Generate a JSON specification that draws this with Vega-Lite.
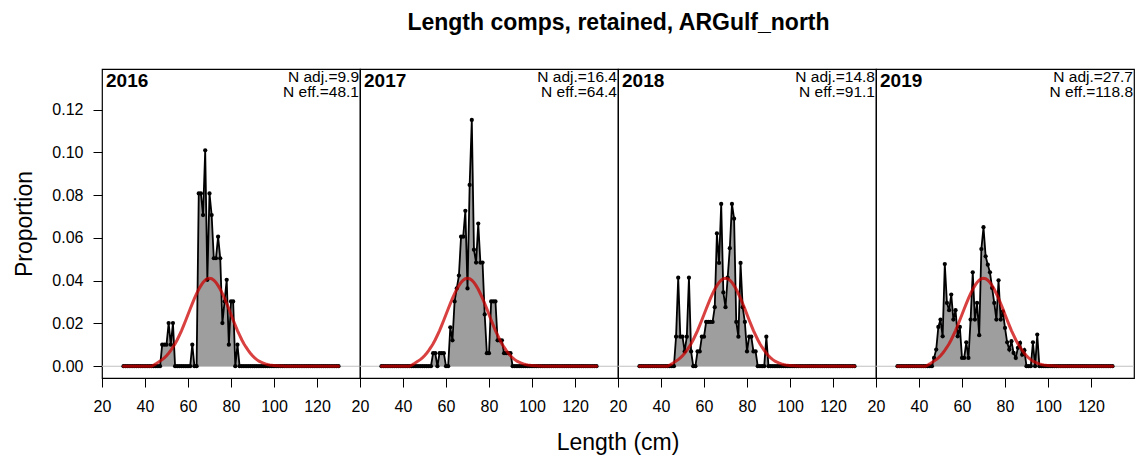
{
"$schema": "https://vega.github.io/schema/vega-lite/v6.json",
"background": "white",
"padding": {"left": 13, "top": 12, "right": 5, "bottom": 5},
"bounds": "flush",
"title": {"text": "Length comps, retained, ARGulf_north", "fontSize": 23, "fontWeight": "bold", "font": "Liberation Sans", "anchor": "middle", "dx": 44, "offset": 33, "color": "black"},
"data": {"values": [
{"year":2016,"len":30,"obs":0,"exp":0},{"year":2016,"len":31,"obs":0,"exp":0},{"year":2016,"len":32,"obs":0,"exp":0},{"year":2016,"len":33,"obs":0,"exp":0},{"year":2016,"len":34,"obs":0,"exp":0},{"year":2016,"len":35,"obs":0,"exp":0},{"year":2016,"len":36,"obs":0,"exp":0},{"year":2016,"len":37,"obs":0,"exp":0},{"year":2016,"len":38,"obs":0,"exp":0},{"year":2016,"len":39,"obs":0,"exp":0},
{"year":2016,"len":40,"obs":0,"exp":0},{"year":2016,"len":41,"obs":0,"exp":0},{"year":2016,"len":42,"obs":0,"exp":0},{"year":2016,"len":43,"obs":0,"exp":0},{"year":2016,"len":44,"obs":0,"exp":0.0005},{"year":2016,"len":45,"obs":0,"exp":0.0011},{"year":2016,"len":46,"obs":0,"exp":0.0018},{"year":2016,"len":47,"obs":0,"exp":0.0024},{"year":2016,"len":48,"obs":0.0101,"exp":0.0031},{"year":2016,"len":49,"obs":0.0101,"exp":0.0039},
{"year":2016,"len":50,"obs":0.0101,"exp":0.0049},{"year":2016,"len":51,"obs":0.0202,"exp":0.0061},{"year":2016,"len":52,"obs":0.0101,"exp":0.0074},{"year":2016,"len":53,"obs":0.0202,"exp":0.0089},{"year":2016,"len":54,"obs":0,"exp":0.0105},{"year":2016,"len":55,"obs":0,"exp":0.0124},{"year":2016,"len":56,"obs":0,"exp":0.0145},{"year":2016,"len":57,"obs":0,"exp":0.0167},{"year":2016,"len":58,"obs":0,"exp":0.0191},{"year":2016,"len":59,"obs":0,"exp":0.0216},
{"year":2016,"len":60,"obs":0,"exp":0.0242},{"year":2016,"len":61,"obs":0,"exp":0.0268},{"year":2016,"len":62,"obs":0.0101,"exp":0.0293},{"year":2016,"len":63,"obs":0,"exp":0.0317},{"year":2016,"len":64,"obs":0,"exp":0.0339},{"year":2016,"len":65,"obs":0.0808,"exp":0.036},{"year":2016,"len":66,"obs":0.0808,"exp":0.0377},{"year":2016,"len":67,"obs":0.0707,"exp":0.0392},{"year":2016,"len":68,"obs":0.101,"exp":0.0402},{"year":2016,"len":69,"obs":0.0404,"exp":0.0409},
{"year":2016,"len":70,"obs":0.0808,"exp":0.0411},{"year":2016,"len":71,"obs":0.0707,"exp":0.0409},{"year":2016,"len":72,"obs":0.0505,"exp":0.0402},{"year":2016,"len":73,"obs":0.0505,"exp":0.0392},{"year":2016,"len":74,"obs":0.0606,"exp":0.0377},{"year":2016,"len":75,"obs":0.0505,"exp":0.036},{"year":2016,"len":76,"obs":0.0202,"exp":0.0339},{"year":2016,"len":77,"obs":0.0303,"exp":0.0317},{"year":2016,"len":78,"obs":0.0404,"exp":0.0293},{"year":2016,"len":79,"obs":0.0101,"exp":0.0268},
{"year":2016,"len":80,"obs":0.0303,"exp":0.0242},{"year":2016,"len":81,"obs":0.0303,"exp":0.0216},{"year":2016,"len":82,"obs":0,"exp":0.0191},{"year":2016,"len":83,"obs":0.0101,"exp":0.0167},{"year":2016,"len":84,"obs":0,"exp":0.0145},{"year":2016,"len":85,"obs":0,"exp":0.0124},{"year":2016,"len":86,"obs":0,"exp":0.0105},{"year":2016,"len":87,"obs":0,"exp":0.0089},{"year":2016,"len":88,"obs":0,"exp":0.0074},{"year":2016,"len":89,"obs":0,"exp":0.0061},
{"year":2016,"len":90,"obs":0,"exp":0.0049},{"year":2016,"len":91,"obs":0,"exp":0.0039},{"year":2016,"len":92,"obs":0,"exp":0.0031},{"year":2016,"len":93,"obs":0,"exp":0.0024},{"year":2016,"len":94,"obs":0,"exp":0.0019},{"year":2016,"len":95,"obs":0,"exp":0.0015},{"year":2016,"len":96,"obs":0,"exp":0.0011},{"year":2016,"len":97,"obs":0,"exp":0.0008},{"year":2016,"len":98,"obs":0,"exp":0.0006},{"year":2016,"len":99,"obs":0,"exp":0.0005},
{"year":2016,"len":100,"obs":0,"exp":0.0003},{"year":2016,"len":101,"obs":0,"exp":0.0002},{"year":2016,"len":102,"obs":0,"exp":0.0002},{"year":2016,"len":103,"obs":0,"exp":0.0001},{"year":2016,"len":104,"obs":0,"exp":0.0001},{"year":2016,"len":105,"obs":0,"exp":0},{"year":2016,"len":106,"obs":0,"exp":0},{"year":2016,"len":107,"obs":0,"exp":0},{"year":2016,"len":108,"obs":0,"exp":0},{"year":2016,"len":109,"obs":0,"exp":0},
{"year":2016,"len":110,"obs":0,"exp":0},{"year":2016,"len":111,"obs":0,"exp":0},{"year":2016,"len":112,"obs":0,"exp":0},{"year":2016,"len":113,"obs":0,"exp":0},{"year":2016,"len":114,"obs":0,"exp":0},{"year":2016,"len":115,"obs":0,"exp":0},{"year":2016,"len":116,"obs":0,"exp":0},{"year":2016,"len":117,"obs":0,"exp":0},{"year":2016,"len":118,"obs":0,"exp":0},{"year":2016,"len":119,"obs":0,"exp":0},
{"year":2016,"len":120,"obs":0,"exp":0},{"year":2016,"len":121,"obs":0,"exp":0},{"year":2016,"len":122,"obs":0,"exp":0},{"year":2016,"len":123,"obs":0,"exp":0},{"year":2016,"len":124,"obs":0,"exp":0},{"year":2016,"len":125,"obs":0,"exp":0},{"year":2016,"len":126,"obs":0,"exp":0},{"year":2016,"len":127,"obs":0,"exp":0},{"year":2016,"len":128,"obs":0,"exp":0},{"year":2016,"len":129,"obs":0,"exp":0},{"year":2016,"len":130,"obs":0,"exp":0},

{"year":2017,"len":30,"obs":0,"exp":0},{"year":2017,"len":31,"obs":0,"exp":0},{"year":2017,"len":32,"obs":0,"exp":0},{"year":2017,"len":33,"obs":0,"exp":0},{"year":2017,"len":34,"obs":0,"exp":0},{"year":2017,"len":35,"obs":0,"exp":0},{"year":2017,"len":36,"obs":0,"exp":0},{"year":2017,"len":37,"obs":0,"exp":0},{"year":2017,"len":38,"obs":0,"exp":0},{"year":2017,"len":39,"obs":0,"exp":0},
{"year":2017,"len":40,"obs":0,"exp":0},{"year":2017,"len":41,"obs":0,"exp":0},{"year":2017,"len":42,"obs":0,"exp":0},{"year":2017,"len":43,"obs":0,"exp":0},{"year":2017,"len":44,"obs":0,"exp":0.0005},{"year":2017,"len":45,"obs":0,"exp":0.0011},{"year":2017,"len":46,"obs":0,"exp":0.0018},{"year":2017,"len":47,"obs":0,"exp":0.0024},{"year":2017,"len":48,"obs":0,"exp":0.0031},{"year":2017,"len":49,"obs":0,"exp":0.0039},
{"year":2017,"len":50,"obs":0,"exp":0.0049},{"year":2017,"len":51,"obs":0,"exp":0.0061},{"year":2017,"len":52,"obs":0,"exp":0.0074},{"year":2017,"len":53,"obs":0,"exp":0.0089},{"year":2017,"len":54,"obs":0.0061,"exp":0.0105},{"year":2017,"len":55,"obs":0.0061,"exp":0.0124},{"year":2017,"len":56,"obs":0,"exp":0.0145},{"year":2017,"len":57,"obs":0.0061,"exp":0.0167},{"year":2017,"len":58,"obs":0.0061,"exp":0.0191},{"year":2017,"len":59,"obs":0.0061,"exp":0.0216},
{"year":2017,"len":60,"obs":0,"exp":0.0242},{"year":2017,"len":61,"obs":0,"exp":0.0268},{"year":2017,"len":62,"obs":0.0182,"exp":0.0293},{"year":2017,"len":63,"obs":0.0121,"exp":0.0317},{"year":2017,"len":64,"obs":0.0303,"exp":0.0339},{"year":2017,"len":65,"obs":0.0364,"exp":0.036},{"year":2017,"len":66,"obs":0.0424,"exp":0.0377},{"year":2017,"len":67,"obs":0.0606,"exp":0.0392},{"year":2017,"len":68,"obs":0.0606,"exp":0.0402},{"year":2017,"len":69,"obs":0.0727,"exp":0.0409},
{"year":2017,"len":70,"obs":0.0364,"exp":0.0411},{"year":2017,"len":71,"obs":0.0848,"exp":0.0409},{"year":2017,"len":72,"obs":0.1152,"exp":0.0402},{"year":2017,"len":73,"obs":0.0545,"exp":0.0392},{"year":2017,"len":74,"obs":0.0485,"exp":0.0377},{"year":2017,"len":75,"obs":0.0667,"exp":0.036},{"year":2017,"len":76,"obs":0.0485,"exp":0.0339},{"year":2017,"len":77,"obs":0.0485,"exp":0.0317},{"year":2017,"len":78,"obs":0.0242,"exp":0.0293},{"year":2017,"len":79,"obs":0.0061,"exp":0.0268},
{"year":2017,"len":80,"obs":0.0061,"exp":0.0242},{"year":2017,"len":81,"obs":0.0303,"exp":0.0216},{"year":2017,"len":82,"obs":0.0303,"exp":0.0191},{"year":2017,"len":83,"obs":0.0303,"exp":0.0167},{"year":2017,"len":84,"obs":0.0121,"exp":0.0145},{"year":2017,"len":85,"obs":0.0121,"exp":0.0124},{"year":2017,"len":86,"obs":0.0121,"exp":0.0105},{"year":2017,"len":87,"obs":0.0061,"exp":0.0089},{"year":2017,"len":88,"obs":0.0061,"exp":0.0074},{"year":2017,"len":89,"obs":0.0061,"exp":0.0061},
{"year":2017,"len":90,"obs":0.0061,"exp":0.0049},{"year":2017,"len":91,"obs":0,"exp":0.0039},{"year":2017,"len":92,"obs":0,"exp":0.0031},{"year":2017,"len":93,"obs":0,"exp":0.0024},{"year":2017,"len":94,"obs":0,"exp":0.0019},{"year":2017,"len":95,"obs":0,"exp":0.0015},{"year":2017,"len":96,"obs":0,"exp":0.0011},{"year":2017,"len":97,"obs":0,"exp":0.0008},{"year":2017,"len":98,"obs":0,"exp":0.0006},{"year":2017,"len":99,"obs":0,"exp":0.0005},
{"year":2017,"len":100,"obs":0,"exp":0.0003},{"year":2017,"len":101,"obs":0,"exp":0.0002},{"year":2017,"len":102,"obs":0,"exp":0.0002},{"year":2017,"len":103,"obs":0,"exp":0.0001},{"year":2017,"len":104,"obs":0,"exp":0.0001},{"year":2017,"len":105,"obs":0,"exp":0},{"year":2017,"len":106,"obs":0,"exp":0},{"year":2017,"len":107,"obs":0,"exp":0},{"year":2017,"len":108,"obs":0,"exp":0},{"year":2017,"len":109,"obs":0,"exp":0},
{"year":2017,"len":110,"obs":0,"exp":0},{"year":2017,"len":111,"obs":0,"exp":0},{"year":2017,"len":112,"obs":0,"exp":0},{"year":2017,"len":113,"obs":0,"exp":0},{"year":2017,"len":114,"obs":0,"exp":0},{"year":2017,"len":115,"obs":0,"exp":0},{"year":2017,"len":116,"obs":0,"exp":0},{"year":2017,"len":117,"obs":0,"exp":0},{"year":2017,"len":118,"obs":0,"exp":0},{"year":2017,"len":119,"obs":0,"exp":0},
{"year":2017,"len":120,"obs":0,"exp":0},{"year":2017,"len":121,"obs":0,"exp":0},{"year":2017,"len":122,"obs":0,"exp":0},{"year":2017,"len":123,"obs":0,"exp":0},{"year":2017,"len":124,"obs":0,"exp":0},{"year":2017,"len":125,"obs":0,"exp":0},{"year":2017,"len":126,"obs":0,"exp":0},{"year":2017,"len":127,"obs":0,"exp":0},{"year":2017,"len":128,"obs":0,"exp":0},{"year":2017,"len":129,"obs":0,"exp":0},{"year":2017,"len":130,"obs":0,"exp":0},

{"year":2018,"len":30,"obs":0,"exp":0},{"year":2018,"len":31,"obs":0,"exp":0},{"year":2018,"len":32,"obs":0,"exp":0},{"year":2018,"len":33,"obs":0,"exp":0},{"year":2018,"len":34,"obs":0,"exp":0},{"year":2018,"len":35,"obs":0,"exp":0},{"year":2018,"len":36,"obs":0,"exp":0},{"year":2018,"len":37,"obs":0,"exp":0},{"year":2018,"len":38,"obs":0,"exp":0},{"year":2018,"len":39,"obs":0,"exp":0},
{"year":2018,"len":40,"obs":0,"exp":0},{"year":2018,"len":41,"obs":0,"exp":0},{"year":2018,"len":42,"obs":0,"exp":0},{"year":2018,"len":43,"obs":0,"exp":0},{"year":2018,"len":44,"obs":0,"exp":0.0005},{"year":2018,"len":45,"obs":0,"exp":0.0011},{"year":2018,"len":46,"obs":0,"exp":0.0018},{"year":2018,"len":47,"obs":0.0138,"exp":0.0024},{"year":2018,"len":48,"obs":0.0414,"exp":0.0031},{"year":2018,"len":49,"obs":0.0138,"exp":0.0039},
{"year":2018,"len":50,"obs":0.0138,"exp":0.0049},{"year":2018,"len":51,"obs":0.0069,"exp":0.0061},{"year":2018,"len":52,"obs":0.0138,"exp":0.0074},{"year":2018,"len":53,"obs":0.0414,"exp":0.0089},{"year":2018,"len":54,"obs":0.0069,"exp":0.0105},{"year":2018,"len":55,"obs":0,"exp":0.0124},{"year":2018,"len":56,"obs":0,"exp":0.0145},{"year":2018,"len":57,"obs":0.0069,"exp":0.0167},{"year":2018,"len":58,"obs":0.0069,"exp":0.0191},{"year":2018,"len":59,"obs":0.0138,"exp":0.0216},
{"year":2018,"len":60,"obs":0.0138,"exp":0.0242},{"year":2018,"len":61,"obs":0.0207,"exp":0.0268},{"year":2018,"len":62,"obs":0.0207,"exp":0.0293},{"year":2018,"len":63,"obs":0.0207,"exp":0.0317},{"year":2018,"len":64,"obs":0.0207,"exp":0.0339},{"year":2018,"len":65,"obs":0.0276,"exp":0.036},{"year":2018,"len":66,"obs":0.0621,"exp":0.0377},{"year":2018,"len":67,"obs":0.0483,"exp":0.0392},{"year":2018,"len":68,"obs":0.0759,"exp":0.0402},{"year":2018,"len":69,"obs":0.0345,"exp":0.0409},
{"year":2018,"len":70,"obs":0.0276,"exp":0.0411},{"year":2018,"len":71,"obs":0.0414,"exp":0.0409},{"year":2018,"len":72,"obs":0.0552,"exp":0.0402},{"year":2018,"len":73,"obs":0.0759,"exp":0.0392},{"year":2018,"len":74,"obs":0.069,"exp":0.0377},{"year":2018,"len":75,"obs":0.0207,"exp":0.036},{"year":2018,"len":76,"obs":0.0138,"exp":0.0339},{"year":2018,"len":77,"obs":0.0483,"exp":0.0317},{"year":2018,"len":78,"obs":0.0276,"exp":0.0293},{"year":2018,"len":79,"obs":0.0207,"exp":0.0268},
{"year":2018,"len":80,"obs":0.0069,"exp":0.0242},{"year":2018,"len":81,"obs":0.0138,"exp":0.0216},{"year":2018,"len":82,"obs":0.0138,"exp":0.0191},{"year":2018,"len":83,"obs":0.0069,"exp":0.0167},{"year":2018,"len":84,"obs":0.0069,"exp":0.0145},{"year":2018,"len":85,"obs":0,"exp":0.0124},{"year":2018,"len":86,"obs":0,"exp":0.0105},{"year":2018,"len":87,"obs":0,"exp":0.0089},{"year":2018,"len":88,"obs":0,"exp":0.0074},{"year":2018,"len":89,"obs":0.0138,"exp":0.0061},
{"year":2018,"len":90,"obs":0,"exp":0.0049},{"year":2018,"len":91,"obs":0,"exp":0.0039},{"year":2018,"len":92,"obs":0,"exp":0.0031},{"year":2018,"len":93,"obs":0,"exp":0.0024},{"year":2018,"len":94,"obs":0,"exp":0.0019},{"year":2018,"len":95,"obs":0,"exp":0.0015},{"year":2018,"len":96,"obs":0,"exp":0.0011},{"year":2018,"len":97,"obs":0,"exp":0.0008},{"year":2018,"len":98,"obs":0,"exp":0.0006},{"year":2018,"len":99,"obs":0,"exp":0.0005},
{"year":2018,"len":100,"obs":0,"exp":0.0003},{"year":2018,"len":101,"obs":0,"exp":0.0002},{"year":2018,"len":102,"obs":0,"exp":0.0002},{"year":2018,"len":103,"obs":0,"exp":0.0001},{"year":2018,"len":104,"obs":0,"exp":0.0001},{"year":2018,"len":105,"obs":0,"exp":0},{"year":2018,"len":106,"obs":0,"exp":0},{"year":2018,"len":107,"obs":0,"exp":0},{"year":2018,"len":108,"obs":0,"exp":0},{"year":2018,"len":109,"obs":0,"exp":0},
{"year":2018,"len":110,"obs":0,"exp":0},{"year":2018,"len":111,"obs":0,"exp":0},{"year":2018,"len":112,"obs":0,"exp":0},{"year":2018,"len":113,"obs":0,"exp":0},{"year":2018,"len":114,"obs":0,"exp":0},{"year":2018,"len":115,"obs":0,"exp":0},{"year":2018,"len":116,"obs":0,"exp":0},{"year":2018,"len":117,"obs":0,"exp":0},{"year":2018,"len":118,"obs":0,"exp":0},{"year":2018,"len":119,"obs":0,"exp":0},
{"year":2018,"len":120,"obs":0,"exp":0},{"year":2018,"len":121,"obs":0,"exp":0},{"year":2018,"len":122,"obs":0,"exp":0},{"year":2018,"len":123,"obs":0,"exp":0},{"year":2018,"len":124,"obs":0,"exp":0},{"year":2018,"len":125,"obs":0,"exp":0},{"year":2018,"len":126,"obs":0,"exp":0},{"year":2018,"len":127,"obs":0,"exp":0},{"year":2018,"len":128,"obs":0,"exp":0},{"year":2018,"len":129,"obs":0,"exp":0},{"year":2018,"len":130,"obs":0,"exp":0},

{"year":2019,"len":30,"obs":0,"exp":0},{"year":2019,"len":31,"obs":0,"exp":0},{"year":2019,"len":32,"obs":0,"exp":0},{"year":2019,"len":33,"obs":0,"exp":0},{"year":2019,"len":34,"obs":0,"exp":0},{"year":2019,"len":35,"obs":0,"exp":0},{"year":2019,"len":36,"obs":0,"exp":0},{"year":2019,"len":37,"obs":0,"exp":0},{"year":2019,"len":38,"obs":0,"exp":0},{"year":2019,"len":39,"obs":0,"exp":0},
{"year":2019,"len":40,"obs":0,"exp":0},{"year":2019,"len":41,"obs":0,"exp":0},{"year":2019,"len":42,"obs":0,"exp":0},{"year":2019,"len":43,"obs":0,"exp":0},{"year":2019,"len":44,"obs":0,"exp":0.0005},{"year":2019,"len":45,"obs":0,"exp":0.0011},{"year":2019,"len":46,"obs":0,"exp":0.0018},{"year":2019,"len":47,"obs":0.0039,"exp":0.0024},{"year":2019,"len":48,"obs":0.0078,"exp":0.0031},{"year":2019,"len":49,"obs":0.0184,"exp":0.0039},
{"year":2019,"len":50,"obs":0.0218,"exp":0.0049},{"year":2019,"len":51,"obs":0.014,"exp":0.0061},{"year":2019,"len":52,"obs":0.0478,"exp":0.0074},{"year":2019,"len":53,"obs":0.0296,"exp":0.0089},{"year":2019,"len":54,"obs":0.0262,"exp":0.0105},{"year":2019,"len":55,"obs":0.0335,"exp":0.0124},{"year":2019,"len":56,"obs":0.0218,"exp":0.0145},{"year":2019,"len":57,"obs":0.0262,"exp":0.0167},{"year":2019,"len":58,"obs":0.014,"exp":0.0191},{"year":2019,"len":59,"obs":0.0184,"exp":0.0216},
{"year":2019,"len":60,"obs":0.0039,"exp":0.0242},{"year":2019,"len":61,"obs":0.0039,"exp":0.0268},{"year":2019,"len":62,"obs":0.0112,"exp":0.0293},{"year":2019,"len":63,"obs":0.0039,"exp":0.0317},{"year":2019,"len":64,"obs":0.0218,"exp":0.0339},{"year":2019,"len":65,"obs":0.0439,"exp":0.036},{"year":2019,"len":66,"obs":0.0218,"exp":0.0377},{"year":2019,"len":67,"obs":0.0296,"exp":0.0392},{"year":2019,"len":68,"obs":0.0145,"exp":0.0402},{"year":2019,"len":69,"obs":0.0548,"exp":0.0409},
{"year":2019,"len":70,"obs":0.065,"exp":0.0411},{"year":2019,"len":71,"obs":0.0514,"exp":0.0409},{"year":2019,"len":72,"obs":0.0475,"exp":0.0402},{"year":2019,"len":73,"obs":0.0439,"exp":0.0392},{"year":2019,"len":74,"obs":0.0366,"exp":0.0377},{"year":2019,"len":75,"obs":0.0296,"exp":0.036},{"year":2019,"len":76,"obs":0.0218,"exp":0.0339},{"year":2019,"len":77,"obs":0.0402,"exp":0.0317},{"year":2019,"len":78,"obs":0.0218,"exp":0.0293},{"year":2019,"len":79,"obs":0.0257,"exp":0.0268},
{"year":2019,"len":80,"obs":0.0179,"exp":0.0242},{"year":2019,"len":81,"obs":0.0112,"exp":0.0216},{"year":2019,"len":82,"obs":0.0078,"exp":0.0191},{"year":2019,"len":83,"obs":0.0117,"exp":0.0167},{"year":2019,"len":84,"obs":0.0062,"exp":0.0145},{"year":2019,"len":85,"obs":0.0039,"exp":0.0124},{"year":2019,"len":86,"obs":0.0086,"exp":0.0105},{"year":2019,"len":87,"obs":0.0109,"exp":0.0089},{"year":2019,"len":88,"obs":0.0054,"exp":0.0074},{"year":2019,"len":89,"obs":0.0075,"exp":0.0061},
{"year":2019,"len":90,"obs":0,"exp":0.0049},{"year":2019,"len":91,"obs":0,"exp":0.0039},{"year":2019,"len":92,"obs":0,"exp":0.0031},{"year":2019,"len":93,"obs":0.0112,"exp":0.0024},{"year":2019,"len":94,"obs":0,"exp":0.0019},{"year":2019,"len":95,"obs":0.0148,"exp":0.0015},{"year":2019,"len":96,"obs":0,"exp":0.0011},{"year":2019,"len":97,"obs":0,"exp":0.0008},{"year":2019,"len":98,"obs":0,"exp":0.0006},{"year":2019,"len":99,"obs":0,"exp":0.0005},
{"year":2019,"len":100,"obs":0,"exp":0.0003},{"year":2019,"len":101,"obs":0,"exp":0.0002},{"year":2019,"len":102,"obs":0,"exp":0.0002},{"year":2019,"len":103,"obs":0,"exp":0.0001},{"year":2019,"len":104,"obs":0,"exp":0.0001},{"year":2019,"len":105,"obs":0,"exp":0},{"year":2019,"len":106,"obs":0,"exp":0},{"year":2019,"len":107,"obs":0,"exp":0},{"year":2019,"len":108,"obs":0,"exp":0},{"year":2019,"len":109,"obs":0,"exp":0},
{"year":2019,"len":110,"obs":0,"exp":0},{"year":2019,"len":111,"obs":0,"exp":0},{"year":2019,"len":112,"obs":0,"exp":0},{"year":2019,"len":113,"obs":0,"exp":0},{"year":2019,"len":114,"obs":0,"exp":0},{"year":2019,"len":115,"obs":0,"exp":0},{"year":2019,"len":116,"obs":0,"exp":0},{"year":2019,"len":117,"obs":0,"exp":0},{"year":2019,"len":118,"obs":0,"exp":0},{"year":2019,"len":119,"obs":0,"exp":0},
{"year":2019,"len":120,"obs":0,"exp":0},{"year":2019,"len":121,"obs":0,"exp":0},{"year":2019,"len":122,"obs":0,"exp":0},{"year":2019,"len":123,"obs":0,"exp":0},{"year":2019,"len":124,"obs":0,"exp":0},{"year":2019,"len":125,"obs":0,"exp":0},{"year":2019,"len":126,"obs":0,"exp":0},{"year":2019,"len":127,"obs":0,"exp":0},{"year":2019,"len":128,"obs":0,"exp":0},{"year":2019,"len":129,"obs":0,"exp":0},{"year":2019,"len":130,"obs":0,"exp":0}
]},
"transform": [
{"lookup": "year", "from": {"data": {"values": [
{"year": 2016, "adj": "N adj.=9.9", "eff": "N eff.=48.1"},
{"year": 2017, "adj": "N adj.=16.4", "eff": "N eff.=64.4"},
{"year": 2018, "adj": "N adj.=14.8", "eff": "N eff.=91.1"},
{"year": 2019, "adj": "N adj.=27.7", "eff": "N eff.=118.8"}
]}, "key": "year", "fields": ["adj", "eff"]}}
],
"facet": {"column": {"field": "year", "type": "ordinal", "header": {"title": "Length (cm)", "titleOrient": "bottom", "labels": false, "titleFontSize": 23, "titleFontWeight": "normal", "titleFont": "Liberation Sans", "titleColor": "black", "titlePadding": 8}}},
"spacing": 0,
"spec": {
"width": 258,
"height": 309,
"layer": [
{"transform": [{"filter": "datum.len == 30"}], "mark": {"type": "rule", "color": "#c0c0c0", "strokeWidth": 1}, "encoding": {"y": {"datum": 0, "type": "quantitative"}}},
{"mark": {"type": "area", "color": "#9e9e9e", "opacity": 1}, "encoding": {
"x": {"field": "len", "type": "quantitative", "scale": {"domain": [20, 140], "nice": false, "zero": false}, "axis": {"values": [20, 40, 60, 80, 100, 120], "title": null, "labelFlush": false, "labelPadding": 11}},
"y": {"field": "obs", "type": "quantitative", "scale": {"domain": [-0.0055, 0.139], "nice": false, "zero": false}, "axis": {"values": [0, 0.02, 0.04, 0.06, 0.08, 0.1, 0.12], "format": ".2f", "title": "Proportion", "titlePadding": 15, "titleFontSize": 23, "labelPadding": 10}}}},
{"mark": {"type": "line", "color": "black", "strokeWidth": 1.8}, "encoding": {"x": {"field": "len", "type": "quantitative"}, "y": {"field": "obs", "type": "quantitative"}}},
{"mark": {"type": "point", "filled": true, "color": "black", "size": 18, "opacity": 1}, "encoding": {"x": {"field": "len", "type": "quantitative"}, "y": {"field": "obs", "type": "quantitative"}}},
{"mark": {"type": "line", "color": "#cc0000", "opacity": 0.75, "strokeWidth": 3, "strokeCap": "round"}, "encoding": {"x": {"field": "len", "type": "quantitative"}, "y": {"field": "exp", "type": "quantitative"}}},
{"transform": [{"filter": "datum.len == 30"}], "mark": {"type": "text", "fontWeight": "bold", "fontSize": 19, "align": "left", "baseline": "top", "dx": 4, "dy": 3, "font": "Liberation Sans", "color": "black"}, "encoding": {"x": {"datum": 20, "type": "quantitative"}, "y": {"datum": 0.139, "type": "quantitative"}, "text": {"field": "year", "type": "nominal"}}},
{"transform": [{"filter": "datum.len == 30"}], "mark": {"type": "text", "fontSize": 15.5, "align": "right", "baseline": "top", "dx": -1, "dy": 1, "font": "Liberation Sans", "color": "black"}, "encoding": {"x": {"datum": 140, "type": "quantitative"}, "y": {"datum": 0.139, "type": "quantitative"}, "text": {"field": "adj"}}},
{"transform": [{"filter": "datum.len == 30"}], "mark": {"type": "text", "fontSize": 15.5, "align": "right", "baseline": "top", "dx": -1, "dy": 15.5, "font": "Liberation Sans", "color": "black"}, "encoding": {"x": {"datum": 140, "type": "quantitative"}, "y": {"datum": 0.139, "type": "quantitative"}, "text": {"field": "eff"}}}
]
},
"config": {
"font": "Liberation Sans",
"view": {"stroke": "black", "strokeWidth": 1.2},
"axis": {"domain": false, "grid": false, "tickColor": "black", "tickSize": 9, "tickWidth": 1, "labelColor": "black", "labelFontSize": 16, "labelFont": "Liberation Sans", "titleFont": "Liberation Sans", "titleFontWeight": "normal", "titleFontSize": 20, "titleColor": "black"}
}
}
